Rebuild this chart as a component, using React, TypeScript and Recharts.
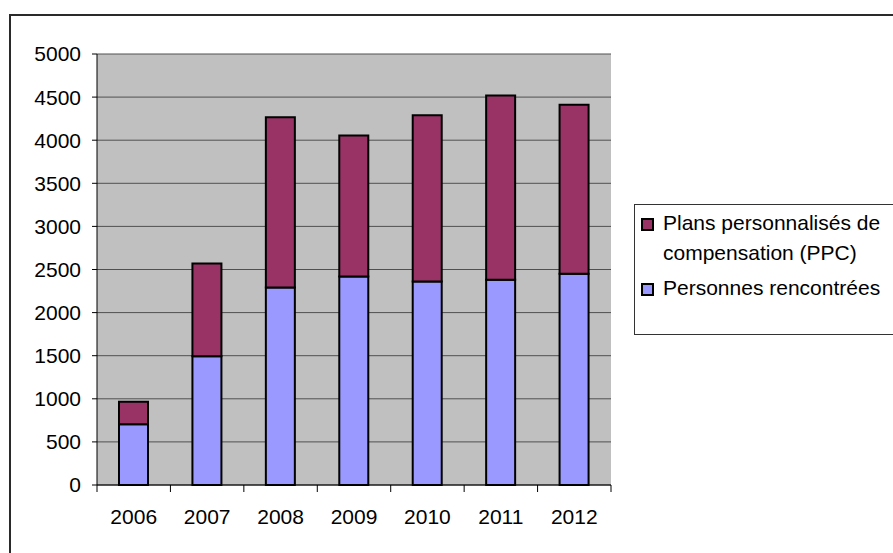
import React from "react";
import {
  BarChart,
  Bar,
  XAxis,
  YAxis,
  CartesianGrid,
  Legend,
} from "recharts";

const years = ["2006", "2007", "2008", "2009", "2010", "2011", "2012"];
// Personnes rencontrées (bas de la pile)
const personnes = [705, 1495, 2290, 2420, 2360, 2380, 2450];
// Plans personnalisés de compensation : totaux lus en haut de chaque barre
const totals = [965, 2570, 4265, 4055, 4290, 4520, 4410];
const ppc = totals.map((t, i) => t - personnes[i]);
const yTicks = [0, 500, 1000, 1500, 2000, 2500, 3000, 3500, 4000, 4500, 5000];

const data = years.map((year, i) => ({
  year,
  personnes: personnes[i],
  ppc: ppc[i],
}));

const WIDTH = 893;
const HEIGHT = 553;
const PLOT_LEFT = 97;
const PLOT_RIGHT = 611;
const PLOT_TOP = 54;
const PLOT_BOTTOM = 485;
const BAND = (PLOT_RIGHT - PLOT_LEFT) / years.length;
const FONT = "'Liberation Sans', Arial, sans-serif";

const YearTick = (props: any) => {
  const { x, payload, index } = props;
  const left = x - BAND / 2;
  return (
    <g>
      <line x1={left} x2={left} y1={PLOT_BOTTOM} y2={PLOT_BOTTOM + 7} stroke="#000" />
      {index === years.length - 1 && (
        <line
          x1={left + BAND}
          x2={left + BAND}
          y1={PLOT_BOTTOM}
          y2={PLOT_BOTTOM + 7}
          stroke="#000"
        />
      )}
      <text x={x} y={524} textAnchor="middle" fontSize={21} fill="#000" fontFamily={FONT}>
        {payload.value}
      </text>
    </g>
  );
};

const LegendBox = (props: any) => {
  const items = [...(props.payload || [])].reverse();
  return (
    <div
      style={{
        border: "1px solid #333",
        background: "#fff",
        width: 300,
        height: 131,
        boxSizing: "border-box",
        paddingTop: 3,
        fontFamily: FONT,
        fontSize: 21,
        lineHeight: "30px",
        color: "#000",
        textAlign: "left",
      }}
    >
      {items.map((item: any) => (
        <div key={item.dataKey} style={{ position: "relative", marginBottom: 5 }}>
          <span
            style={{
              position: "absolute",
              left: 6,
              top: 10,
              width: 13,
              height: 13,
              boxSizing: "border-box",
              border: "2px solid #000",
              background: item.color,
            }}
          />
          <div style={{ marginLeft: 28, width: 228 }}>{item.value}</div>
        </div>
      ))}
    </div>
  );
};

export default function App() {
  return (
    <div
      style={{
        position: "absolute",
        left: 0,
        top: 0,
        width: WIDTH,
        height: HEIGHT,
        overflow: "hidden",
        background: "#fff",
        fontFamily: FONT,
      }}
    >
      <div
        style={{
          position: "absolute",
          left: 9,
          top: 14,
          width: 1000,
          height: 1000,
          border: "2px solid #2a2a2a",
        }}
      />
      <div style={{ position: "absolute", left: 0, top: 0 }}>
        <BarChart
          width={WIDTH}
          height={HEIGHT}
          data={data}
          margin={{ top: PLOT_TOP, right: WIDTH - PLOT_RIGHT, bottom: 28, left: 10 }}
          barSize={29}
        >
          <CartesianGrid fill="#C0C0C0" stroke="#505050" vertical={false} />
          <XAxis
            dataKey="year"
            axisLine={{ stroke: "#000" }}
            tickLine={false}
            tick={<YearTick />}
            height={40}
            interval={0}
          />
          <YAxis
            domain={[0, 5000]}
            ticks={yTicks}
            width={PLOT_LEFT - 10}
            axisLine={{ stroke: "#000" }}
            tickLine={{ stroke: "#000" }}
            tickSize={5}
            tickMargin={11}
            tick={{ fill: "#000", fontSize: 21, fontFamily: FONT }}
            interval={0}
          />
          <YAxis
            yAxisId="right"
            orientation="right"
            width={0}
            tick={false}
            tickLine={false}
            axisLine={{ stroke: "#808080", strokeWidth: 2 }}
          />
          <Legend
            layout="horizontal"
            verticalAlign="middle"
            align="center"
            content={<LegendBox />}
            wrapperStyle={{ left: 634, top: 204, width: 300 }}
          />
          <Bar
            dataKey="personnes"
            name="Personnes rencontrées"
            stackId="a"
            fill="#9999FF"
            stroke="#000"
            strokeWidth={2}
            isAnimationActive={false}
          />
          <Bar
            dataKey="ppc"
            name="Plans personnalisés de compensation (PPC)"
            stackId="a"
            fill="#993366"
            stroke="#000"
            strokeWidth={2}
            isAnimationActive={false}
          />
        </BarChart>
      </div>
    </div>
  );
}
